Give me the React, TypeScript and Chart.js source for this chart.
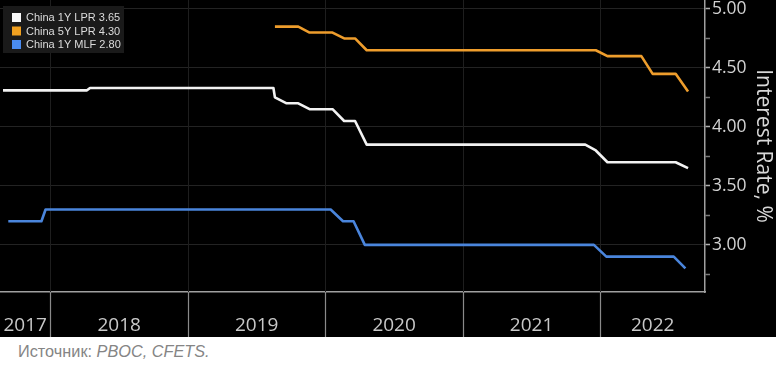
import React, { useEffect, useRef } from 'react';
import { Chart, registerables } from 'chart.js';

Chart.register(...registerables);

// ---- Data ----
const axisStart = '2017-08-20';
const axisEnd = '2022-10-06';
const years = [2017, 2018, 2019, 2020, 2021, 2022];

// 1Y LPR before the August 2019 reform
const oldLprDates = ['2017-08-28', '2018-04-08', '2018-04-16', '2019-08-16'];
const oldLpr1y = [4.31, 4.31, 4.33, 4.33];

// monthly LPR fixings after the reform
const lprDates = [
  '2019-08-20', '2019-09-20', '2019-10-21', '2019-11-20', '2019-12-20',
  '2020-01-20', '2020-02-20', '2020-03-20', '2020-04-20', '2020-05-20', '2020-06-22',
  '2020-07-20', '2020-08-20', '2020-09-21', '2020-10-20', '2020-11-20', '2020-12-21',
  '2021-01-20', '2021-02-20', '2021-03-22', '2021-04-20', '2021-05-20', '2021-06-21',
  '2021-07-20', '2021-08-20', '2021-09-22', '2021-10-20', '2021-11-22', '2021-12-20',
  '2022-01-20', '2022-02-21', '2022-03-21', '2022-04-20', '2022-05-20', '2022-06-20',
  '2022-07-20', '2022-08-22',
];
const lpr1y = [
  4.25, 4.20, 4.20, 4.15, 4.15,
  4.15, 4.05, 4.05, 3.85, 3.85, 3.85,
  3.85, 3.85, 3.85, 3.85, 3.85, 3.85,
  3.85, 3.85, 3.85, 3.85, 3.85, 3.85,
  3.85, 3.85, 3.85, 3.85, 3.85, 3.80,
  3.70, 3.70, 3.70, 3.70, 3.70, 3.70,
  3.70, 3.65,
];
const lpr5y = [
  4.85, 4.85, 4.85, 4.80, 4.80,
  4.80, 4.75, 4.75, 4.65, 4.65, 4.65,
  4.65, 4.65, 4.65, 4.65, 4.65, 4.65,
  4.65, 4.65, 4.65, 4.65, 4.65, 4.65,
  4.65, 4.65, 4.65, 4.65, 4.65, 4.65,
  4.60, 4.60, 4.60, 4.60, 4.45, 4.45,
  4.45, 4.30,
];

const mlfDates = [
  '2017-09-11', '2017-12-08', '2017-12-19', '2020-01-15', '2020-02-17', '2020-03-16',
  '2020-04-15', '2021-12-15', '2022-01-17', '2022-07-15', '2022-08-15',
];
const mlf1y = [3.20, 3.20, 3.30, 3.30, 3.20, 3.20, 3.00, 3.00, 2.90, 2.90, 2.80];

const seriesLabels = ['China 1Y LPR 3.65', 'China 5Y LPR 4.30', 'China 1Y MLF 2.80'];
const yMin = 2.6;
const yMax = 5.076;
const yStep = 0.25;

// ---- helpers ----
function toYear(d: string): number {
  const dt = new Date(d + 'T00:00:00Z');
  const y = dt.getUTCFullYear();
  const s = Date.UTC(y, 0, 1);
  const e = Date.UTC(y + 1, 0, 1);
  return y + (dt.getTime() - s) / (e - s);
}
function pts(dates: string[], vals: number[]) {
  return dates.map((d, i) => ({ x: toYear(d), y: vals[i] }));
}
const isMajor = (v: number) => Math.abs(v * 2 - Math.round(v * 2)) < 1e-6;

const COLORS = ['#f2f2f2', '#ee9d2c', '#4a85dc'];
const SWATCH = ['#f8f8f8', '#f0a020', '#4a8cf0'];

export default function App() {
  const ref = useRef<HTMLCanvasElement>(null);

  useEffect(() => {
    const xMin = toYear(axisStart);
    const xMax = toYear(axisEnd);

    const bgPlugin = {
      id: 'bg',
      beforeDraw(chart: any) {
        const c = chart.ctx;
        c.save();
        c.fillStyle = '#000';
        c.fillRect(0, 0, chart.width, chart.height);
        c.restore();
      },
    };

    const yearGridPlugin = {
      id: 'yearGrid',
      beforeDatasetsDraw(chart: any) {
        const c = chart.ctx;
        const xs = chart.scales.x;
        const { top, bottom } = chart.chartArea;
        c.save();
        years.forEach((y) => {
          if (y <= xMin || y >= xMax) return;
          const px = Math.round(xs.getPixelForValue(y)) + 0.5;
          c.strokeStyle = '#1e1e1e';
          c.lineWidth = 1;
          c.beginPath();
          c.moveTo(px, top);
          c.lineTo(px, bottom);
          c.stroke();
          c.strokeStyle = '#8a8a8a';
          c.lineWidth = 1.2;
          c.beginPath();
          c.moveTo(px, bottom);
          c.lineTo(px, chart.height);
          c.stroke();
        });
        c.restore();
      },
    };

    const legendPlugin = {
      id: 'boxLegend',
      afterDraw(chart: any) {
        const c = chart.ctx;
        c.save();
        c.fillStyle = '#1a1a1a';
        c.fillRect(3, 6, 121, 47);
        c.font = '11px "Liberation Sans", Arial, sans-serif';
        c.textBaseline = 'middle';
        chart.data.datasets.forEach((ds: any, i: number) => {
          const cy = 17.5 + i * 13.5;
          c.fillStyle = SWATCH[i];
          c.fillRect(12, cy - 4.5, 9, 9);
          c.fillStyle = '#dcdcdc';
          c.fillText(ds.label, 26, cy + 0.5);
        });
        c.restore();
      },
    };

    const chart = new Chart(ref.current as HTMLCanvasElement, {
      type: 'line',
      data: {
        datasets: [
          {
            label: seriesLabels[0],
            data: [...pts(oldLprDates, oldLpr1y), ...pts(lprDates, lpr1y)],
            borderColor: COLORS[0],
          },
          {
            label: seriesLabels[1],
            data: pts(lprDates, lpr5y),
            borderColor: COLORS[1],
          },
          {
            label: seriesLabels[2],
            data: pts(mlfDates, mlf1y),
            borderColor: COLORS[2],
          },
        ],
      },
      options: {
        animation: false,
        responsive: false,
        maintainAspectRatio: false,
        layout: { padding: 0 },
        elements: {
          point: { radius: 0 },
          line: { tension: 0, borderWidth: 2.6, borderJoinStyle: 'round', borderCapStyle: 'butt', fill: false },
        },
        plugins: { legend: { display: false }, tooltip: { enabled: false } },
        scales: {
          x: {
            type: 'linear',
            min: xMin,
            max: xMax,
            afterBuildTicks: (s: any) => {
              s.ticks = years.map((y) => ({ value: (Math.max(y, xMin) + Math.min(y + 1, xMax)) / 2 }));
            },
            afterFit: (s: any) => {
              s.height = 45;
              s.paddingLeft = 0;
              s.paddingRight = 0;
            },
            ticks: {
              callback: (_v: any, i: number) => String(years[i]),
              color: '#c8c8c8',
              font: { family: '"Open Sans", sans-serif', size: 19 },
              padding: 22,
              maxRotation: 0,
              minRotation: 0,
              autoSkip: false,
            },
            grid: { color: 'rgba(0,0,0,0)', drawTicks: false },
            border: { display: true, color: '#a0a0a0', width: 1.5 },
          },
          y: {
            position: 'right',
            min: yMin,
            max: yMax,
            afterBuildTicks: (s: any) => {
              const t: any[] = [];
              for (let v = Math.ceil(yMin / yStep) * yStep; v <= yMax + 1e-9; v += yStep) {
                t.push({ value: Math.round(v * 100) / 100 });
              }
              s.ticks = t;
            },
            afterFit: (s: any) => {
              s.width = 71;
              s.paddingTop = 0;
              s.paddingBottom = 0;
            },
            ticks: {
              callback: (v: any) => (isMajor(Number(v)) ? Number(v).toFixed(2) : ''),
              color: '#d2d2d2',
              font: { family: '"Open Sans", sans-serif', size: 17.5 },
              padding: 2,
              autoSkip: false,
            },
            grid: {
              color: (ctx: any) => (ctx.tick && isMajor(ctx.tick.value) ? '#232323' : 'rgba(0,0,0,0)'),
              tickColor: (ctx: any) => (ctx.tick && isMajor(ctx.tick.value) ? '#b0b0b0' : '#7a7a7a'),
              tickLength: 5,
              tickWidth: 1.5,
              lineWidth: 1,
            },
            border: { display: true, color: '#a0a0a0', width: 1.5 },
            title: {
              display: true,
              text: 'Interest Rate, %',
              color: '#d8d8d8',
              font: { family: '"Open Sans", sans-serif', size: 21 },
              padding: { top: 0, bottom: 0 },
            },
          },
        },
      } as any,
      plugins: [bgPlugin, yearGridPlugin, legendPlugin],
    });

    return () => chart.destroy();
  }, []);

  return (
    <div
      style={{
        position: 'fixed',
        left: 0,
        top: 0,
        width: 776,
        height: 367,
        background: '#fff',
        overflow: 'hidden',
      }}
    >
      <canvas ref={ref} width={776} height={337} style={{ display: 'block', width: 776, height: 337 }} />
      <div
        style={{
          position: 'absolute',
          left: 18,
          top: 343,
          fontFamily: '"Liberation Sans", Arial, sans-serif',
          fontSize: 16.3,
          lineHeight: '16px',
          color: '#858585',
          whiteSpace: 'nowrap',
        }}
      >
        Источник: <i>PBOC, CFETS.</i>
      </div>
    </div>
  );
}
